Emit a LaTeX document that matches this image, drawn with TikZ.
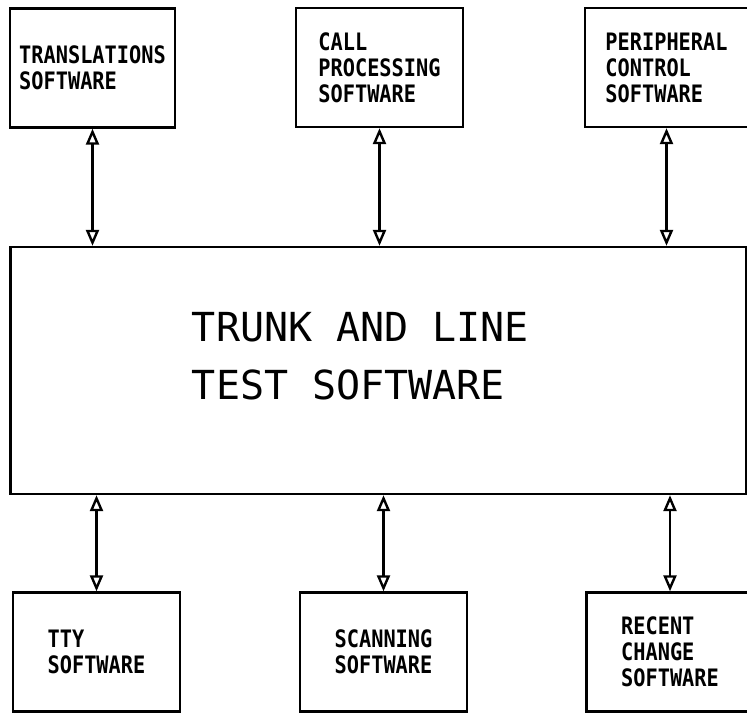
\documentclass[tikz,border=0pt]{standalone}
\usepackage{fontspec}
\newfontfamily\boxfont[FakeStretch=0.845]{DejaVu Sans Mono}
\newfontfamily\mainfont{DejaVu Sans Mono}
\usetikzlibrary{arrows.meta,positioning}

\begin{document}
\begin{tikzpicture}[x=1pt,y=-1pt,
		sw/.style={draw, line width=2.4pt, minimum width=167pt, minimum height=119pt,
			inner sep=0pt, align=left, font={\boxfont\bfseries\fontsize{24}{26}\selectfont}},
		link/.style={line width=2.4pt,
			{Triangle[open,length=16pt,width=13pt]}-{Triangle[open,length=16pt,width=13pt]}}]
		\useasboundingbox (0,0) rectangle (747,714);
		
		% upper row
		\node[sw, minimum width=165pt] (trans) at (92.5,68) {TRANSLATIONS\\SOFTWARE};
		\node[sw] (callp) at (379.5,67.5) {CALL\\PROCESSING\\SOFTWARE};
		\node[sw, minimum width=163pt] (periph) at (666.5,67.5) {PERIPHERAL\\CONTROL\\SOFTWARE};
		
		% test software
		\node[draw, line width=2.4pt, minimum width=736pt, minimum height=247pt] (test) at (378.5,370.5) {};
		\node[align=left, font={\mainfont\fontsize{40}{58}\selectfont}] (testlbl) at (360.5,356) {TRUNK AND LINE\\TEST SOFTWARE};
		
		% lower row
		\node[sw] (tty) at (96.5,652) {TTY\\SOFTWARE};
		\node[sw] (scan) at (383.5,652) {SCANNING\\SOFTWARE};
		\node[sw] (recent) at (670,652) {RECENT\\CHANGE\\SOFTWARE};
		
		\draw[link] (trans.south) -- (trans.south |- test.north);
		\draw[link] (callp.south) -- (callp.south |- test.north);
		\draw[link] (periph.south) -- (periph.south |- test.north);
		
		\draw[link] (test.south -| tty.north) -- (tty.north);
		\draw[link] (test.south -| scan.north) -- (scan.north);
		\draw[link] (test.south -| recent.north) -- (recent.north);
\end{tikzpicture}
\end{document}
